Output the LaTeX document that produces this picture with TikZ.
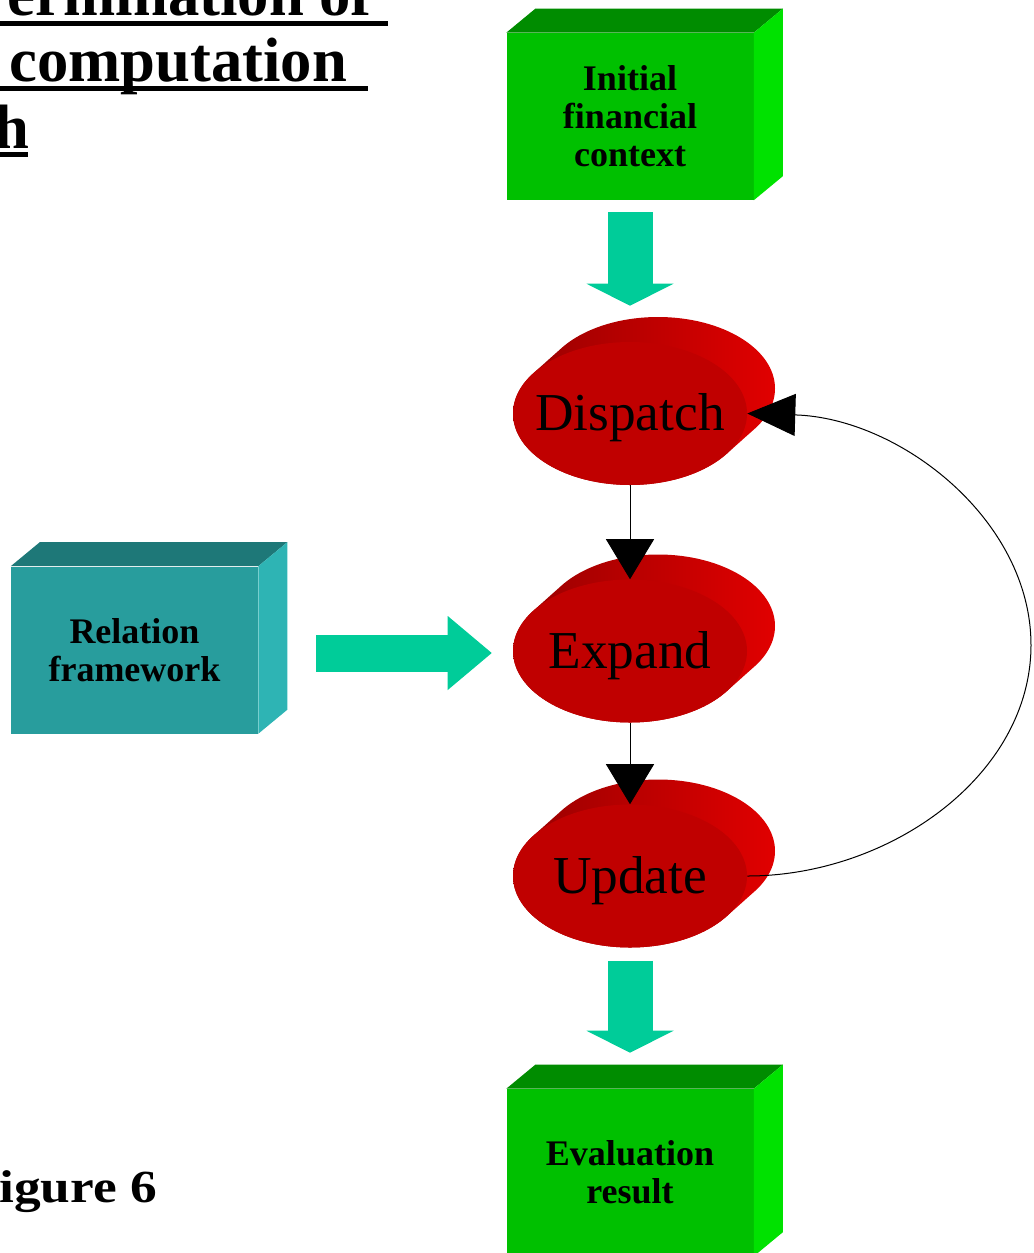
\documentclass[tikz,border=0pt]{standalone}
\usepackage{fontspec}
\usepackage{graphicx}
\setmainfont{Liberation Serif}
\usetikzlibrary{arrows.meta,calc,shapes.geometric}

\definecolor{grnfront}{RGB}{0,192,0}
\definecolor{grntop}{RGB}{0,140,0}
\definecolor{grnside}{RGB}{0,226,0}
\definecolor{tealfront}{RGB}{40,157,157}
\definecolor{tealtop}{RGB}{30,120,120}
\definecolor{tealside}{RGB}{46,180,180}
\definecolor{flowteal}{RGB}{0,204,153}
\definecolor{discred}{RGB}{192,0,0}
\definecolor{discdark}{RGB}{150,0,0}
\definecolor{discbright}{RGB}{226,0,0}

% top and right faces of a block drawn behind its front face
\newcommand\boxfaces[3]{%
  \fill[#2] (#1.north west) -- ++(29,-24) -- ($(#1.north east)+(29,-24)$) -- (#1.north east) -- cycle;
  \fill[#3] (#1.north east) -- ++(29,-24) -- ($(#1.south east)+(29,-24)$) -- (#1.south east) -- cycle;}

% extruded body of a disc, shaded from dark to bright
\newcommand\discdepth[2]{%
  \begin{scope}
    \clip foreach \k in {0,...,14} {(#1+2*\k,#2-25*\k/14) ellipse [x radius=117,y radius=71.5]};
    \shade[left color=discdark,right color=discbright] (#1-120,#2-100) rectangle (#1+150,#2+75);
  \end{scope}}

\newcommand\disclabel[1]{\raisebox{-12.75pt}[0pt][0pt]{\makebox[0pt]{#1}}}

\begin{document}
\begin{tikzpicture}[x=0.75pt,y=-0.75pt,
  block/.style={rectangle, inner sep=0pt, minimum width=185.25pt, minimum height=125.25pt,
    align=center, font=\bfseries\fontsize{27}{28.5}\selectfont},
  disc/.style={ellipse, inner sep=0pt, fill=discred, minimum width=175.5pt, minimum height=107.25pt,
    font=\fontsize{40}{40}\selectfont},
  headline/.style={inner sep=0pt, font=\bfseries\fontsize{47}{47}\selectfont},
  flow/.style={draw=flowteal, line width=33.75pt,
    -{Triangle[width=65.25pt,length=16.5pt,line width=0pt]}},
  sideflow/.style={draw=flowteal, line width=27.75pt,
    -{Triangle[width=55.5pt,length=33pt,line width=0pt]}},
  link/.style={draw=black, line width=0.75pt}]

\useasboundingbox (0,0) rectangle (1033,1253);
\clip (0,0) rectangle (1033,1253);

% heading (partly outside the page)
\node[headline, anchor=base east] (h1) at (372,15) {ermination of};
\node[headline, anchor=base west] (h2) at (9,81) {computation};
\node[headline, anchor=base west] (h3) at (-6,148) {h};
\fill (0,21) rectangle (388,26);
\fill (0,86) rectangle (368,91);
\fill (0,152) rectangle (28,157);

\node[inner sep=0pt, anchor=base west, font=\bfseries\fontsize{34.5}{34.5}\selectfont]
  (fig) at (-1,1202) {\scalebox{1.16}[1]{igure 6}};

% blocks
\node[block, fill=grnfront] (ctx) at (630,116.5) {Initial\\financial\\context};
\boxfaces{ctx}{grntop}{grnside}
\node[block, fill=tealfront] (rel) at (134.5,650) {Relation\\framework};
\boxfaces{rel}{tealtop}{tealside}
\node[block, fill=grnfront] (res) at (630,1172.5) {Evaluation\\result};
\boxfaces{res}{grntop}{grnside}

% discs
\discdepth{630}{413.5}
\node[disc] (dis) at (630,413.5) {\disclabel{Dispatch}};
\discdepth{630}{651}
\node[disc] (exp) at (630,651) {\disclabel{Expand}};
\discdepth{630}{876}
\node[disc] (upd) at (630,876) {\disclabel{Update}};

% broad flow arrows
\draw[flow] ($(ctx.south)+(0,12)$) -- ($(dis.north)+(0,-36)$);
\draw[sideflow] ($(rel.east |- exp.west)+(58,2)$) -- ($(exp.west)+(-21,2)$);
\draw[flow] ($(upd.south)+(0,13)$) -- ($(res.north)+(0,-36)$);

% thin connectors
\draw[link, -{Triangle[width=36pt,length=30pt]}] (dis.south) -- (exp.north);
\draw[link, -{Triangle[width=36pt,length=30pt]}] (exp.south) -- (upd.north);
\draw[link, -{Triangle[width=31.5pt,length=36pt]}] (upd.east)
  .. controls (890,876) and (1031,775) .. (1031,645)
  .. controls (1031,520) and (900,418) .. (dis.east);
\end{tikzpicture}
\end{document}
